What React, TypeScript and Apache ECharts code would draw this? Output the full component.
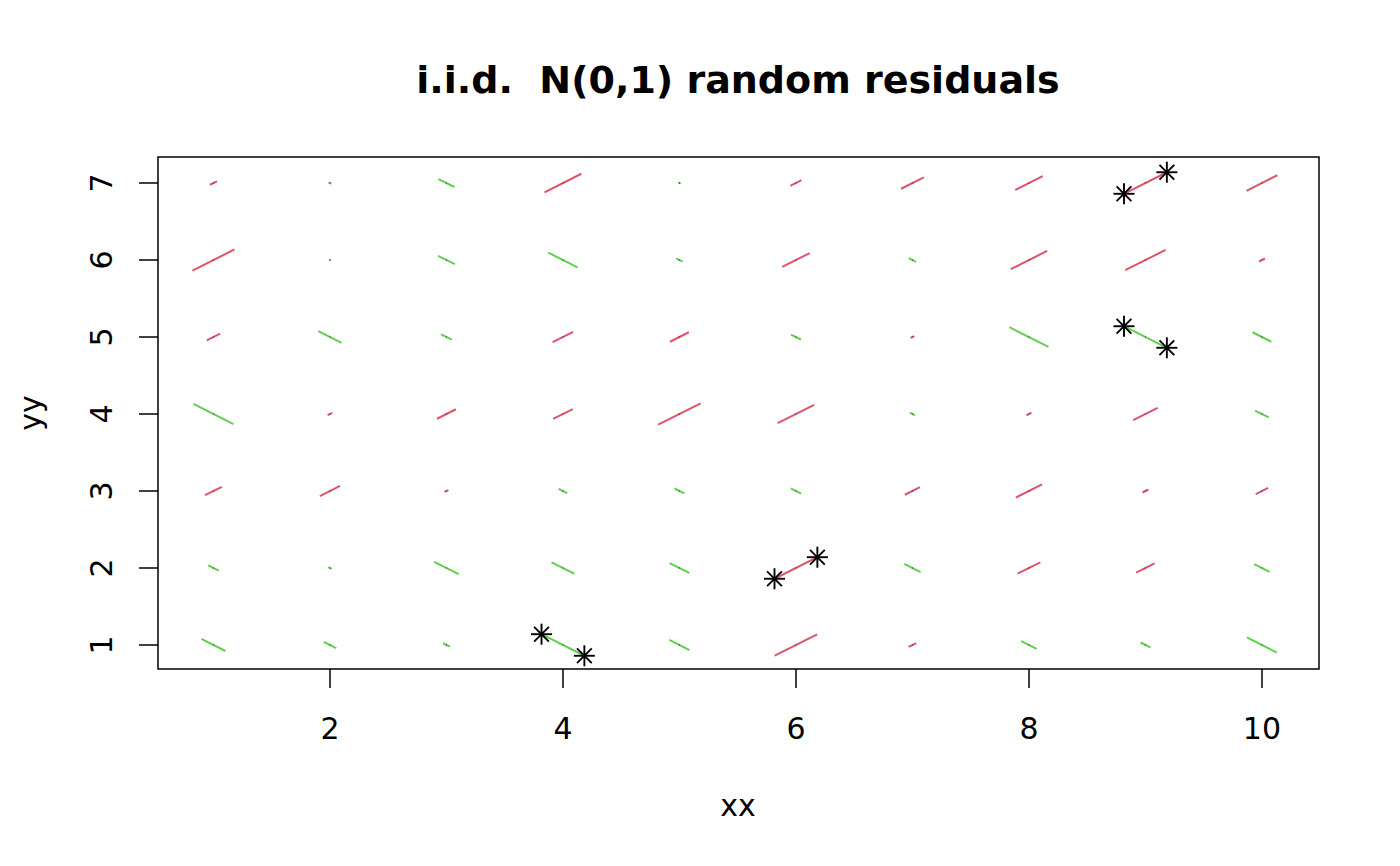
import React, { useEffect, useRef } from "react";
import * as echarts from "echarts";

// ---- data ----
const xValues = [1, 2, 3, 4, 5, 6, 7, 8, 9, 10];
const yValues = [1, 2, 3, 4, 5, 6, 7];
// residuals, one row per y value (y = 1 .. 7), relative to the longest drawn segment;
// |r| > 1 are outliers (drawn clipped and marked with stars)
const resY1 = [-0.56, -0.29, -0.16, -1.3, -0.47, 0.99, 0.18, -0.36, -0.23, -0.7];
const resY2 = [-0.25, -0.08, -0.57, -0.53, -0.46, 1.3, -0.38, 0.53, 0.43, -0.36];
const resY3 = [0.39, 0.47, 0.09, -0.2, -0.23, -0.24, 0.35, 0.61, 0.14, 0.29];
const resY4 = [-0.93, 0.11, 0.44, 0.46, 0.99, 0.85, -0.12, 0.12, 0.57, -0.32];
const resY5 = [0.31, -0.54, -0.25, 0.48, 0.44, -0.23, 0.09, -0.91, -1.3, -0.44];
const resY6 = [0.98, -0.04, -0.39, -0.68, -0.15, 0.64, -0.17, 0.85, 0.94, 0.14];
const resY7 = [0.16, -0.07, -0.37, 0.86, -0.06, 0.26, 0.53, 0.64, 1.3, 0.72];
const residualRows = [resY1, resY2, resY3, resY4, resY5, resY6, resY7];
const xTicks = [2, 4, 6, 8, 10];
const yTicks = [1, 2, 3, 4, 5, 6, 7];

const TITLE = "i.i.d.  N(0,1) random residuals";
const RED = "#DF536B";
const GREEN = "#61D04F";
const CAP = 1;
const HX = 0.184; // half segment extent in x-units at full length
const HY = 0.14; // half segment extent in y-units at full length
const FONT = "DejaVu Sans";

const App: React.FC = () => {
  const ref = useRef<HTMLDivElement>(null);

  useEffect(() => {
    if (!ref.current) return;
    const chart = echarts.init(ref.current, undefined, { renderer: "svg" });

    const data: number[][] = [];
    yValues.forEach((y, i) => {
      xValues.forEach((x, j) => {
        data.push([x, y, residualRows[i][j]]);
      });
    });

    const star = (p: number[]) => {
      const d = 7.4;
      const e = 10.5;
      const st = { stroke: "#000", lineWidth: 1.9 };
      return [
        { type: "line", shape: { x1: p[0] - d, y1: p[1] - d, x2: p[0] + d, y2: p[1] + d }, style: st },
        { type: "line", shape: { x1: p[0] - d, y1: p[1] + d, x2: p[0] + d, y2: p[1] - d }, style: st },
        { type: "line", shape: { x1: p[0] - e, y1: p[1], x2: p[0] + e, y2: p[1] }, style: st },
        { type: "line", shape: { x1: p[0], y1: p[1] - e, x2: p[0], y2: p[1] + e }, style: st },
      ];
    };

    const option: any = {
      animation: false,
      backgroundColor: "#fff",
      grid: {
        left: 158,
        top: 157,
        width: 1161,
        height: 512,
        show: true,
        borderColor: "#000",
        borderWidth: 1.5,
        backgroundColor: "transparent",
        containLabel: false,
      },
      xAxis: {
        type: "value",
        min: 0.524,
        max: 10.49,
        axisLine: { show: false },
        splitLine: { show: false },
        axisTick: {
          show: true,
          inside: false,
          length: 19,
          customValues: xTicks,
          lineStyle: { color: "#000", width: 1.5 },
        },
        axisLabel: {
          show: true,
          customValues: xTicks,
          margin: 44,
          color: "#000",
          fontSize: 30,
          fontFamily: FONT,
        },
      },
      yAxis: {
        type: "value",
        min: 0.688,
        max: 7.338,
        axisLine: { show: false },
        splitLine: { show: false },
        axisTick: {
          show: true,
          inside: false,
          length: 19,
          customValues: yTicks,
          lineStyle: { color: "#000", width: 1.5 },
        },
        axisLabel: {
          show: true,
          customValues: yTicks,
          rotate: 90,
          margin: 42,
          color: "#000",
          fontSize: 30,
          fontFamily: FONT,
        },
      },
      graphic: [
        {
          type: "text",
          x: 738,
          y: 80,
          style: {
            text: TITLE,
            fill: "#000",
            font: `bold 38px '${FONT}'`,
            textAlign: "center",
            textVerticalAlign: "middle",
          },
        },
        {
          type: "text",
          x: 738,
          y: 805,
          style: {
            text: "xx",
            fill: "#000",
            font: `30px '${FONT}'`,
            textAlign: "center",
            textVerticalAlign: "middle",
          },
        },
        {
          type: "text",
          x: 30,
          y: 413,
          rotation: Math.PI / 2,
          style: {
            text: "yy",
            fill: "#000",
            font: `30px '${FONT}'`,
            textAlign: "center",
            textVerticalAlign: "middle",
          },
        },
      ],
      series: [
        {
          type: "custom",
          coordinateSystem: "cartesian2d",
          encode: { x: 0, y: 1 },
          data,
          renderItem: (_params: any, api: any) => {
            const x = api.value(0);
            const y = api.value(1);
            const r = api.value(2);
            const c = Math.max(-CAP, Math.min(CAP, r));
            const p1 = api.coord([x - HX * Math.abs(c), y - HY * c]);
            const p2 = api.coord([x + HX * Math.abs(c), y + HY * c]);
            const center = api.coord([x, y]);
            const children: any[] = [
              {
                type: "line",
                shape: { x1: p1[0], y1: p1[1], x2: p2[0], y2: p2[1] },
                style: { stroke: r > 0 ? RED : GREEN, lineWidth: 2 },
              },
              {
                type: "rect",
                shape: { x: center[0] - 0.5, y: center[1] - 0.5, width: 1, height: 1 },
                style: { fill: "#333" },
              },
            ];
            if (Math.abs(r) > CAP) {
              children.push(...star(p1), ...star(p2));
            }
            return { type: "group", children };
          },
        },
      ],
    };

    chart.setOption(option);
    return () => chart.dispose();
  }, []);

  return (
    <div
      ref={ref}
      style={{ position: "fixed", left: 0, top: 0, width: 1400, height: 866, background: "#fff" }}
    />
  );
};

export default App;
